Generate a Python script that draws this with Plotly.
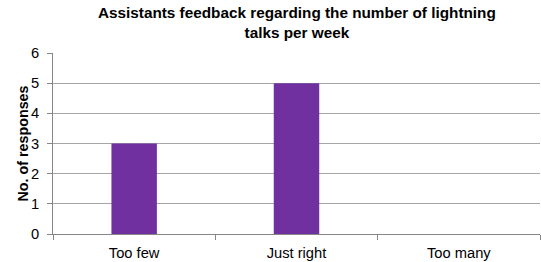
import plotly.graph_objects as go

categories = ["Too few", "Just right", "Too many"]
responses = [3, 5, 0]
y_ticks = [0, 1, 2, 3, 4, 5, 6]

fig = go.Figure(go.Bar(x=categories, y=responses, marker=dict(color="#7030A0", line=dict(width=0)), width=0.28))

fig.update_layout(
    width=541, height=262,
    margin=dict(l=53, r=1, t=53, b=28),
    paper_bgcolor="white", plot_bgcolor="white",
    font=dict(family="Liberation Sans, Arial", size=14.7, color="black"),
    showlegend=False,
    annotations=[
        dict(
            text="<b>Assistants feedback regarding the number of lightning<br>talks per week</b>",
            xref="paper", yref="paper", x=0.5, y=1, xanchor="center", yanchor="bottom",
            yshift=10, showarrow=False, align="center",
            font=dict(size=15.3, family="Liberation Sans, Arial", color="black"),
        ),
        dict(
            text="<b>No. of responses</b>",
            xref="paper", yref="paper", x=0, y=0.5, xanchor="center", yanchor="middle",
            xshift=-31, textangle=-90, showarrow=False,
            font=dict(size=14.3, family="Liberation Sans, Arial", color="black"),
        ),
    ],
)
fig.update_xaxes(
    showline=True, linecolor="#868686", linewidth=1,
    ticks="outside", ticklen=5, tickcolor="#868686", tickson="boundaries",
    ticklabelstandoff=5,
    showgrid=False, range=[-0.5, 2.5], automargin=False,
)
fig.update_yaxes(
    range=[0, 6], tickvals=y_ticks,
    showline=True, linecolor="#868686", linewidth=1,
    ticks="outside", ticklen=5, tickcolor="#868686",
    ticklabelstandoff=5,
    showgrid=True, gridcolor="#A6A6A6", gridwidth=1,
    zeroline=False, automargin=False,
)
fig.write_html("out.html", config={"displayModeBar": False},
               post_script="document.body.style.margin='0';")
